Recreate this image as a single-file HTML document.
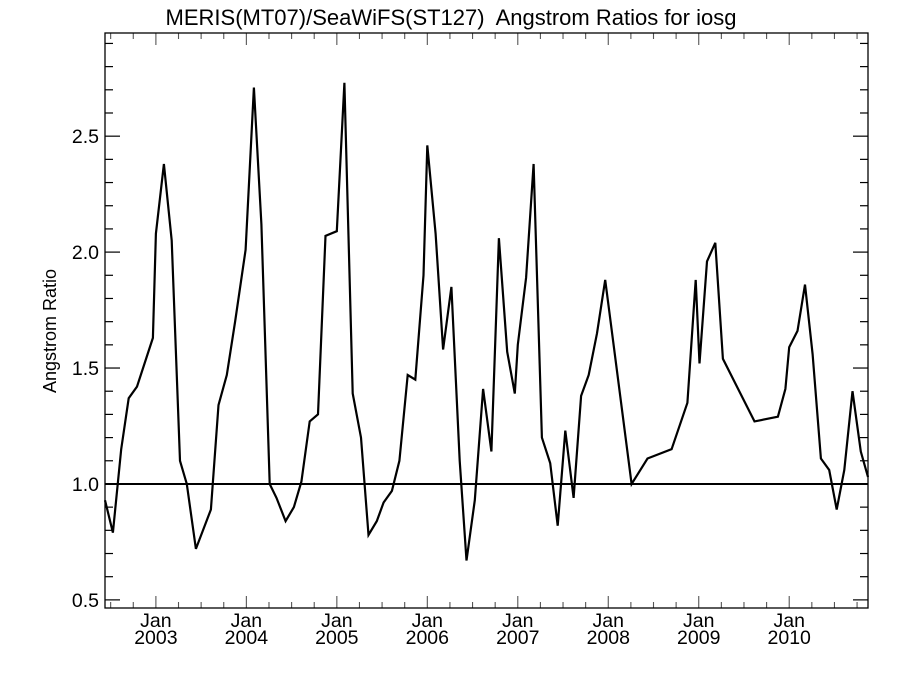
<!DOCTYPE html>
<html><head><meta charset="utf-8"><style>
html,body{margin:0;padding:0;background:#fff;}
svg text{font-family:"Liberation Sans",sans-serif;fill:#000;}
</style></head><body>
<svg id="chart" width="900" height="675" viewBox="0 0 900 675" xmlns="http://www.w3.org/2000/svg">
<rect width="900" height="675" fill="#fff"/>
<text x="451" y="25" font-size="22" text-anchor="middle" style="white-space:pre">MERIS(MT07)/SeaWiFS(ST127)  Angstrom Ratios for iosg</text>
<text transform="translate(56,331) rotate(-90)" font-size="18" text-anchor="middle">Angstrom Ratio</text>
<g id="ticks"></g>
<g id="marks"></g>
<rect x="105" y="33" width="763" height="575" fill="none" stroke="#000" stroke-width="1.3"/>
</svg>
<script>
// months since Jan 2003
const months = [-6.75,-5.7,-4.6,-3.6,-2.5,-0.4,0,1.06,2.1,3.2,4.1,5.3,7.3,8.3,9.4,10.5,11.9,13.0,14.0,15.1,16.0,17.2,18.3,19.3,20.4,21.5,22.5,24.0,25.0,26.1,27.2,28.2,29.3,30.2,31.3,32.3,33.4,34.4,35.5,36.0,37.1,38.1,39.2,40.3,41.2,42.3,43.4,44.5,45.5,46.6,47.6,48.0,49.1,50.1,51.2,52.3,53.3,54.3,55.4,56.4,57.4,58.5,59.6,63.1,65.2,68.4,70.5,71.6,72.1,73.1,74.2,75.2,79.4,82.5,83.5,84.0,85.1,86.1,87.1,88.2,89.3,90.3,91.3,92.4,93.5,94.45];
const ratios = [0.93,0.79,1.15,1.37,1.42,1.63,2.08,2.38,2.05,1.10,1.00,0.72,0.89,1.34,1.47,1.70,2.01,2.71,2.12,1.00,0.94,0.84,0.90,1.01,1.27,1.30,2.07,2.09,2.73,1.39,1.20,0.78,0.84,0.92,0.97,1.10,1.47,1.45,1.90,2.46,2.08,1.58,1.85,1.10,0.67,0.93,1.41,1.14,2.06,1.57,1.39,1.60,1.89,2.38,1.20,1.09,0.82,1.23,0.94,1.38,1.47,1.65,1.88,1.00,1.11,1.15,1.35,1.88,1.52,1.96,2.04,1.54,1.27,1.29,1.41,1.59,1.66,1.86,1.56,1.11,1.06,0.89,1.06,1.40,1.14,1.03];
const yTickLabels = ["0.5","1.0","1.5","2.0","2.5"];
const yearLabels = ["2003","2004","2005","2006","2007","2008","2009","2010"];
const refValue = 1.0;

const X0=105,X1=868,Y0=608,Y1=33;
const mMin=-6.75,mMax=94.45,vMin=0.465,vMax=2.945;
const xs=m=>X0+(m-mMin)/(mMax-mMin)*(X1-X0);
const ys=v=>Y0-(v-vMin)/(vMax-vMin)*(Y0-Y1);
const NS="http://www.w3.org/2000/svg";
const tg=document.getElementById('ticks'), mg=document.getElementById('marks');
function mk(tag,attrs,parent){const e=document.createElementNS(NS,tag);for(const k in attrs)e.setAttribute(k,attrs[k]);parent.appendChild(e);return e;}

for(let i=5;i<=29;i++){
  const v=i/10,y=ys(v),major=(i%5===0),L=major?15:8;
  const l1=mk('line',{x1:X0,x2:X0+L,y1:y,y2:y,stroke:'#000','stroke-width':1.2},tg);
  
  
  const l2=mk('line',{x1:X1,x2:X1-L,y1:y,y2:y,stroke:'#000','stroke-width':1.2},tg);
  
  
}
yTickLabels.forEach(s=>{
  const t=mk('text',{x:99,y:ys(parseFloat(s))+7,'font-size':19.5,'text-anchor':'end'},tg);
  t.textContent=s;
  
  
});
for(let m=-6;m<=94;m+=3){
  const x=xs(m),major=(m%12===0),L=major?12:6;
  const a=mk('line',{x1:x,x2:x,y1:Y0,y2:Y0-L,stroke:'#555','stroke-width':1.1},tg);
  
  
  const b=mk('line',{x1:x,x2:x,y1:Y1,y2:Y1+L,stroke:'#555','stroke-width':1.1},tg);
  
  
}
yearLabels.forEach((yr,i)=>{
  const x=xs(i*12);
  const t1=mk('text',{x:x,y:627,'font-size':19.5,'text-anchor':'middle'},tg);
  t1.textContent='Jan';
  
  
  const t2=mk('text',{x:x,y:644,'font-size':19.5,'text-anchor':'middle'},tg);
  t2.textContent=yr;
  
  
});
const rl=mk('line',{x1:X0,x2:X1,y1:ys(refValue),y2:ys(refValue),stroke:'#000','stroke-width':2},mg);


const pts=months.map((m,i)=>xs(m).toFixed(1)+','+ys(ratios[i]).toFixed(1)).join(' ');
const pl=mk('polyline',{points:pts,fill:'none',stroke:'#000','stroke-width':2.2,'stroke-linejoin':'miter'},mg);


</script>
</body></html>
